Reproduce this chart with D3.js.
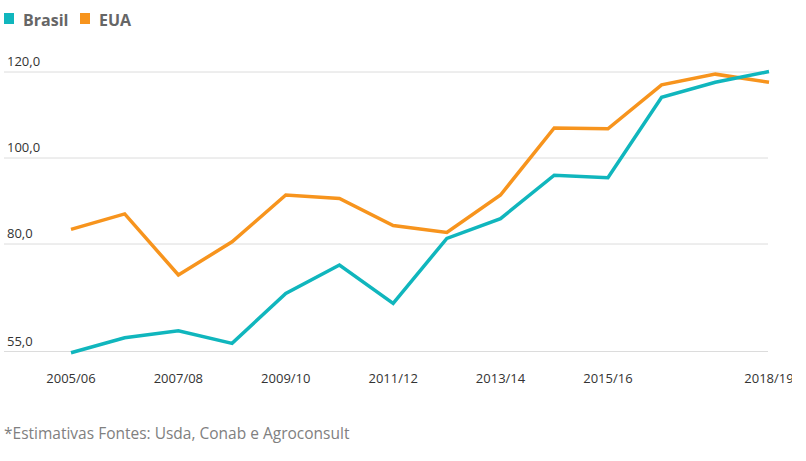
<!DOCTYPE html>
<html lang="pt">
<head>
<meta charset="UTF-8">
<script src="https://d3js.org/d3.v7.min.js"></script>
<style>
  body { margin: 0; background: #fff; }
  svg { display: block; }
  text { font-family: "Open Sans", "Noto Sans", sans-serif; }
</style>
</head>
<body>
<div id="chart"></div>
<script>
// safras
var safras = ["2005/06", "2006/07", "2007/08", "2008/09", "2009/10", "2010/11", "2011/12",
  "2012/13", "2013/14", "2014/15", "2015/16", "2016/17", "2017/18", "2018/19"];
var brasil = [54.7, 58.2, 59.8, 56.9, 68.5, 75.1, 66.2, 81.3, 85.9, 96.0, 95.4, 114.1, 117.6, 120.1];
var eua = [83.4, 87.0, 72.8, 80.5, 91.4, 90.6, 84.3, 82.7, 91.4, 107.0, 106.8, 117.0, 119.5, 117.6];
var yTicks = [55, 80, 100, 120];
var xLabels = ["2005/06", "2007/08", "2009/10", "2011/12", "2013/14", "2015/16", "2018/19"];

var W = 792, H = 461;
var svg = d3.select("#chart").append("svg").attr("width", W).attr("height", H);

var x = d3.scalePoint().domain(safras).range([71, 769]);
var y = d3.scaleLinear().domain([80, 120]).range([244, 72]);

// grade
svg.selectAll(".grid").data(yTicks).enter().append("line")
  .attr("x1", 4).attr("x2", 768)
  .attr("y1", d => y(d)).attr("y2", d => y(d))
  .attr("stroke", "#dcdcdc").attr("stroke-width", 1);

svg.selectAll(".ylab").data(yTicks).enter().append("text")
  .attr("x", 7).attr("y", d => y(d) - 6)
  .attr("font-size", 13).attr("fill", "#333")
  .text(d => d3.format(".1f")(d).replace(".", ","));

svg.selectAll(".xlab").data(xLabels).enter().append("text")
  .attr("x", d => x(d)).attr("y", 383)
  .attr("text-anchor", "middle")
  .attr("font-size", 13).attr("fill", "#333")
  .text(d => d);

var line = d3.line().x((d, i) => x(safras[i])).y(d => y(d));

var series = [
  { nome: "Brasil", valores: brasil, cor: "#10b6bd" },
  { nome: "EUA", valores: eua, cor: "#f7941d" }
];

// EUA primeiro, Brasil por cima
series.slice().reverse().forEach(function(s) {
  svg.append("path").datum(s.valores)
    .attr("d", line)
    .attr("fill", "none")
    .attr("stroke", s.cor)
    .attr("stroke-width", 3.5)
    .attr("stroke-linejoin", "miter");
});

// legenda
var legX = [4, 80];
series.forEach(function(s, i) {
  svg.append("rect").attr("x", legX[i]).attr("y", 13).attr("width", 10).attr("height", 11).attr("fill", s.cor);
  svg.append("text").attr("x", legX[i] + 19).attr("y", 26)
    .attr("font-size", 16).attr("font-weight", "bold").attr("fill", "#666")
    .text(s.nome);
});

svg.append("text").attr("x", 4).attr("y", 439)
  .attr("font-size", 15.5).attr("fill", "#808080")
  .text("*Estimativas Fontes: Usda, Conab e Agroconsult");
</script>
</body>
</html>
